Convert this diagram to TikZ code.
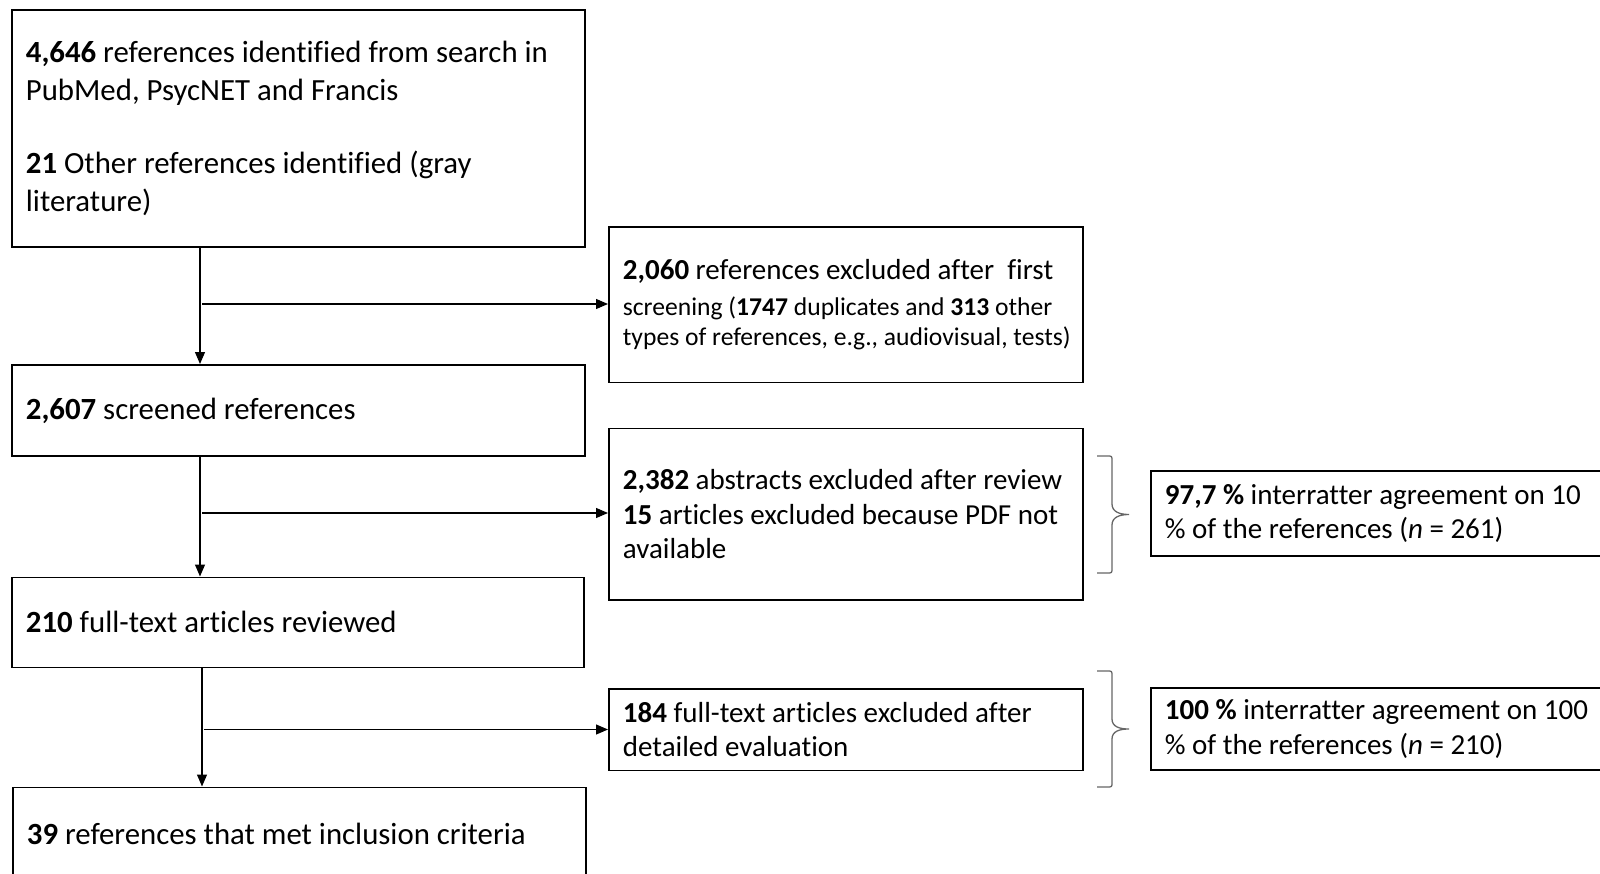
\documentclass[tikz,border=0pt]{standalone}
\usepackage{fontspec}
\setmainfont{Carlito}[Ligatures=NoCommon]
\usetikzlibrary{arrows.meta}
\newcommand\fsbig{\fontsize{30.8}{37.8}\selectfont}
\newcommand\fsmid{\fontsize{29}{34.7}\selectfont}
\newcommand\fssmall{\fontsize{25.6}{30.6}\selectfont}
\newcommand\lne[1]{\mbox{#1}}
\begin{document}
\begin{tikzpicture}[x=1pt,y=-1pt,
  box/.style={draw, line width=1.8pt, align=flush left, inner xsep=14pt, inner ysep=0pt,
    anchor=north west, font=\fsbig},
  mbox/.style={box, font=\fsmid},
  arr/.style={-{Triangle[length=12pt,width=10pt]}, line width=1.1pt},
  brc/.style={line width=1.3pt, draw=black!60}]
\useasboundingbox (0,0) rectangle (1600,874);
% left column
\node[box, text width=545pt, minimum height=237pt] (b1) at (11,9)
  {\lne{\textbf{4,646} references identified from search in}\\\lne{PubMed, PsycNET and Francis}\\[35.7pt]\lne{\textbf{21} Other references identified (gray}\\\lne{literature)}};
\node[box, text width=545pt, minimum height=91pt] (b2) at (11,364)
  {\lne{\textbf{2,607} screened references}};
\node[box, text width=544pt, minimum height=90pt] (b3) at (11,576.5)
  {\lne{\textbf{210} full-text articles reviewed}};
\node[box, text width=545pt, minimum height=94pt] (b4) at (12,786.5)
  {\lne{\textbf{39} references that met inclusion criteria}};
% middle column
\node[box, font=\fssmall, text width=446pt, minimum height=155pt] (e1) at (608,226.5)
  {\lne{\fsmid\textbf{2,060} references excluded after\ \ first}\\[4.9pt]\lne{screening (\textbf{1747} duplicates and \textbf{313} other}\\\lne{types of references, e.g., audiovisual, tests)}};
\node[mbox, text width=446pt, minimum height=171.5pt] (e2) at (608,427.5)
  {\lne{\textbf{2,382} abstracts excluded after review}\\\lne{\textbf{15} articles excluded because PDF not}\\\lne{available}};
\node[mbox, text width=446pt, minimum height=81.5pt] (e3) at (608,688)
  {\lne{\textbf{184} full-text articles excluded after}\\\lne{detailed evaluation}};
% right column
\node[mbox, text width=437pt, minimum height=85pt] (a1) at (1150,470)
  {\lne{\textbf{97,7 \%} interratter agreement on 10}\\\lne{\% of the references (\textit{n} = 261)}};
\node[mbox, text width=437pt, minimum height=82pt] (a2) at (1150,687)
  {\lne{\textbf{100 \%} interratter agreement on 100}\\\lne{\% of the references (\textit{n} = 210)}};
% connectors
\coordinate (v1) at (200,304);
\coordinate (v2) at (200,513);
\coordinate (v3) at (202,729.5);
\draw[arr] (v1 |- b1.south) -- (v1 |- b2.north);
\draw[arr] (v2 |- b2.south) -- (v2 |- b3.north);
\draw[arr] (v3 |- b3.south) -- (v3 |- b4.north);
\draw[arr] ([xshift=2pt]v1) -- (v1 -| e1.west);
\draw[arr] ([xshift=2pt]v2) -- (v2 -| e2.west);
\draw[arr] ([xshift=2pt]v3) -- (v3 -| e3.west);
% braces
\draw[brc] (1097,456) -- (1107,456) .. controls (1112,456) .. (1112,461) -- (1112,504)
  .. controls (1112,512) and (1120,514.5) .. (1129,514.5)
  .. controls (1120,514.5) and (1112,517) .. (1112,525) -- (1112,568)
  .. controls (1112,573) .. (1107,573) -- (1097,573);
\draw[brc] (1097,671) -- (1107,671) .. controls (1112,671) .. (1112,676) -- (1112,719)
  .. controls (1112,727) and (1120,729) .. (1129,729)
  .. controls (1120,729) and (1112,731) .. (1112,739) -- (1112,782)
  .. controls (1112,787) .. (1107,787) -- (1097,787);
\end{tikzpicture}
\end{document}
